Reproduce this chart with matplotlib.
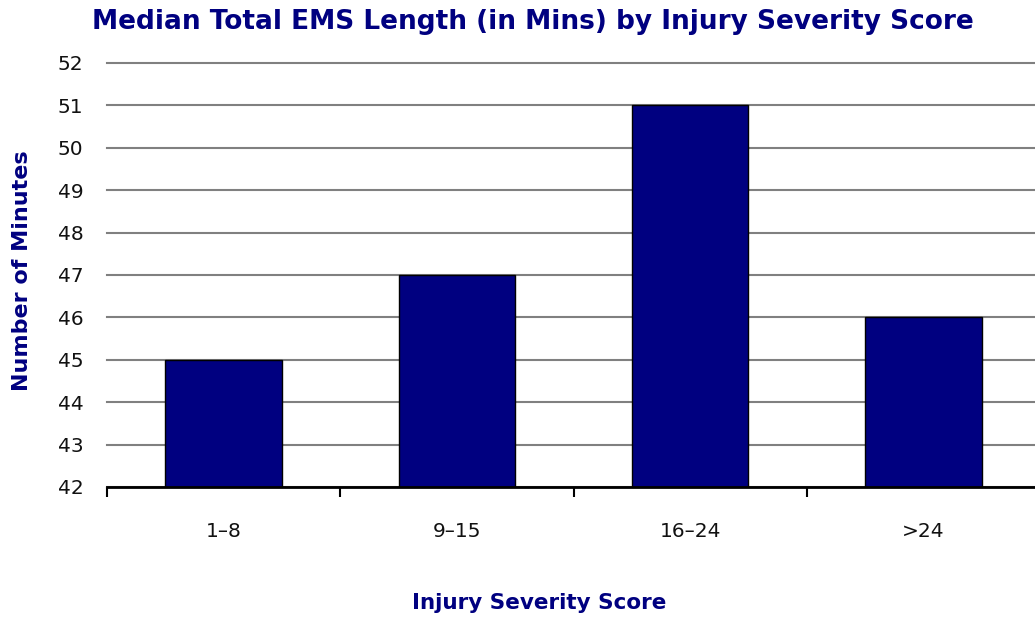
import matplotlib.pyplot as plt
from matplotlib.ticker import FixedLocator

categories = ["1\u20138", "9\u201315", "16\u201324", ">24"]
median_minutes = [45, 47, 51, 46]
y_ticks = list(range(42, 53))

navy = "#000080"

fig = plt.figure(figsize=(10.35, 6.2), dpi=100)
# plot area runs past the right edge of the picture, as in the reference
ax = fig.add_axes([107 / 1035, 133 / 620, 933 / 1035, 424 / 620])

xs = range(len(categories))
ax.bar(xs, median_minutes, width=0.5, bottom=0, color=navy,
       edgecolor="black", linewidth=1.0, zorder=3)

ax.set_xlim(-0.5, len(categories) - 0.5)
ax.set_ylim(42, 52)
ax.set_yticks(y_ticks)
ax.set_yticklabels([str(t) for t in y_ticks])
ax.yaxis.grid(True, color="#808080", linewidth=1.5, zorder=0)
for gl in ax.get_ygridlines():
    gl.set_clip_on(False)

ax.xaxis.set_major_locator(FixedLocator([x - 0.5 for x in range(len(categories) + 1)]))
ax.xaxis.set_major_formatter(plt.NullFormatter())
ax.xaxis.set_minor_locator(FixedLocator(list(xs)))
ax.set_xticklabels(categories, minor=True)
ax.tick_params(axis="x", which="major", direction="out", length=7,
               width=1.5, color="black")
ax.tick_params(axis="x", which="minor", length=0, pad=25,
               labelsize=14.5, labelcolor="#111111")
ax.tick_params(axis="y", length=0, pad=17, labelsize=14.5, labelcolor="#111111")

for side in ["left", "right", "top"]:
    ax.spines[side].set_visible(False)
ax.spines["bottom"].set_linewidth(2)
ax.spines["bottom"].set_zorder(4)

fig.text(533 / 1035, 1 - 22 / 620,
         "Median Total EMS Length (in Mins) by Injury Severity Score",
         ha="center", va="center", fontsize=19, fontweight="bold", color=navy)
fig.text(539 / 1035, 1 - 603 / 620, "Injury Severity Score",
         ha="center", va="center", fontsize=15.5, fontweight="bold", color=navy)
fig.text(22 / 1035, 1 - 271 / 620, "Number of Minutes", rotation=90,
         ha="center", va="center", fontsize=16, fontweight="bold", color=navy)

fig.savefig("out.png", dpi=100)
